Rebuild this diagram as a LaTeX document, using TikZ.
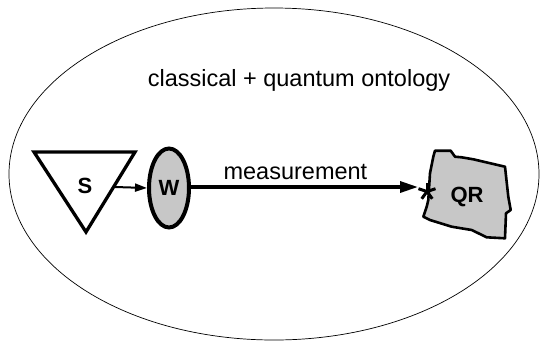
\documentclass[tikz,border=0pt]{standalone}
\usepackage{fontspec}
\setmainfont{Liberation Sans}
\usetikzlibrary{arrows.meta,shapes.geometric}
\begin{document}
\begin{tikzpicture}[x=1pt,y=-1pt,
  lbl/.style={font=\fontsize{23.5}{27}\selectfont},
  blbl/.style={font=\fontsize{22}{25}\selectfont\bfseries},
  grayfill/.style={fill=black!22}]
\useasboundingbox (0,0) rectangle (541,341);
% outer ellipse
\draw[line width=0.7pt] (274,174) ellipse[x radius=265, y radius=166];
\node[lbl] (title) at (299,80) {classical + quantum ontology};
% triangle S
\draw[line width=3.3pt, line join=miter] (34,152) -- (135,152) -- (86,232) -- cycle;
\node[blbl] (S) at (85,186) {S};
\coordinate (sout) at (115,187);
% W ellipse
\node[draw, line width=4pt, grayfill, ellipse, minimum width=40pt, minimum height=79pt, inner sep=0pt, blbl] (W) at (169,188) {W};
% QR blob
\draw[line width=2.6pt, grayfill, line join=round]
  (435,150.7) -- (450.7,150.7) -- (455,156.7) -- (461.7,157.3) -- (473.3,159.3)
  -- (505,166.7) -- (508.3,196.7) -- (510.7,210) -- (506,213.3) -- (505,238.3)
  -- (486.7,237.3) -- (471.7,230) -- (451.7,226.7) -- (430,220) -- (423.3,216.7)
  -- (426.7,206.7) -- (428.3,200) -- (430,173.3) -- (433.3,156.7) -- cycle;
\node[blbl] (QR) at (467,197) {QR};
% asterisk
\coordinate (star) at (427,191.5);
\foreach \a in {90,18,162,-54,-126}
  \draw[line width=3pt] (star) -- ++(\a:9pt);
\coordinate (mend) at (418,187);
% arrows
\draw[line width=2pt, -{Triangle[length=12pt,width=8pt]}] (sout) -- (W.west);
\draw[line width=3.3pt, -{Triangle[length=18pt,width=11pt]}] (W.east |- mend) -- node[lbl, above=2pt, pos=0.46] (mlab) {measurement} (mend);
\end{tikzpicture}
\end{document}
